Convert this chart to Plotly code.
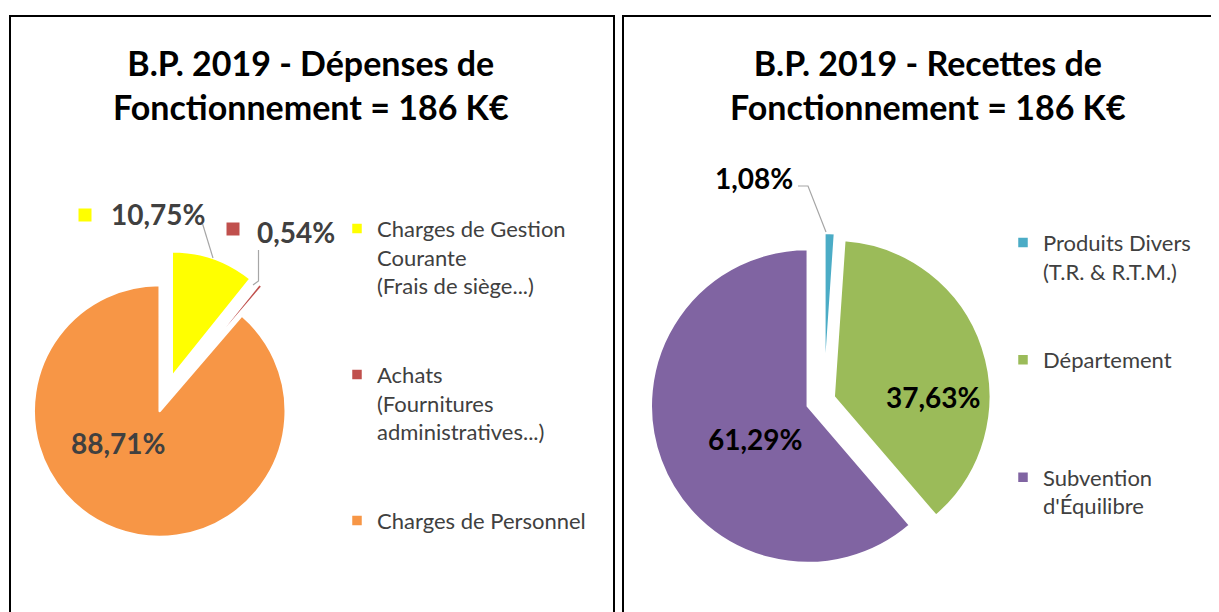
import plotly.graph_objects as go

# ---------------- data ----------------
dep_categories = ["Charges de Gestion<br>Courante<br>(Frais de siège...)",
                  "Achats<br>(Fournitures<br>administratives...)",
                  "Charges de Personnel"]
dep_values = [10.75, 0.54, 88.71]
dep_colors = ["#FFFF00", "#C0504D", "#F79646"]

rec_categories = ["Produits Divers<br>(T.R. & R.T.M.)",
                  "Département",
                  "Subvention<br>d'Équilibre"]
rec_values = [1.08, 37.63, 61.29]
rec_colors = ["#4BACC6", "#9BBB59", "#8064A2"]

titles = ["B.P. 2019 - Dépenses de<br>Fonctionnement = 186 K€",
          "B.P. 2019 - Recettes de<br>Fonctionnement = 186 K€"]

# ---------------- layout helpers ----------------
# the page adds an 8px body margin, so the figure is drawn 8px in from the corner
OFF = 8
W, H = 1219 - OFF, 612 - OFF
FONT = "Lato"


def px(x):
    return (x - OFF) / W


def py(y):
    return 1 - (y - OFF) / H


def pad(labels, n):
    """pad legend labels with blank lines so every entry has n lines (except the last)"""
    out = []
    for i, lab in enumerate(labels):
        lines = lab.split("<br>")
        if i < len(labels) - 1:
            lines += ["\u00a0"] * (n - len(lines))
        out.append("<br>".join(lines))
    return out


def fmt(v):
    return f"{v:.2f}".replace(".", ",") + "%"


fig = go.Figure()

fig.add_trace(go.Pie(
    labels=pad(dep_categories, 5), values=dep_values,
    marker=dict(colors=dep_colors, line=dict(width=2.5, color="#FFFFFF")),
    pull=[0.225, 0.225, 0.06], sort=False, direction="clockwise", rotation=0,
    textinfo="none", hoverinfo="label+percent",
    domain=dict(x=[0, px(8 + 308.7)], y=[py(558.25), py(249.55)]),
    legend="legend",
))

fig.add_trace(go.Pie(
    labels=pad(rec_categories, 4), values=rec_values,
    marker=dict(colors=rec_colors, line=dict(width=2.5, color="#FFFFFF")),
    pull=[0.065, 0.065, 0.11], sort=False, direction="clockwise", rotation=0,
    textinfo="none", hoverinfo="label+percent",
    domain=dict(x=[px(649.7), px(998.3)], y=[py(574.3), py(225.7)]),
    legend="legend2",
))

# ---------------- annotations ----------------
ann = []
# titles
for t, cx in zip(titles, [311, 928]):
    ann.append(dict(text=f"<b>{t}</b>", x=px(cx), y=py(84.5), xref="paper", yref="paper",
                    xanchor="center", yanchor="middle", showarrow=False,
                    font=dict(family=FONT, size=34, color="#000000")))

# data labels (positions per slice)
dep_label_pos = [(158, 214), (296, 232), (118, 443)]
rec_label_pos = [(754, 178), (933, 397), (755, 439)]
for v, (x, y) in zip(dep_values, dep_label_pos):
    ann.append(dict(text=f"<b>{fmt(v)}</b>", x=px(x), y=py(y), xref="paper", yref="paper",
                    xanchor="center", yanchor="middle", showarrow=False,
                    font=dict(family=FONT, size=28, color="#404040")))
for v, (x, y) in zip(rec_values, rec_label_pos):
    ann.append(dict(text=f"<b>{fmt(v)}</b>", x=px(x), y=py(y), xref="paper", yref="paper",
                    xanchor="center", yanchor="middle", showarrow=False,
                    font=dict(family=FONT, size=28, color="#000000")))

# ---------------- shapes ----------------
shapes = []
# panel borders
for x0, x1 in [(10, 614), (623, 1240)]:
    shapes.append(dict(type="rect", xref="paper", yref="paper",
                       x0=px(x0), x1=px(x1), y0=py(640), y1=py(16),
                       line=dict(color="#000000", width=2), fillcolor="rgba(0,0,0,0)"))


def path(pts):
    return "M " + " L ".join(f"{px(x)},{py(y)}" for x, y in pts)


leaders = [
    [(202, 222), (213, 258)],
    [(258.5, 250), (258.5, 281), (253, 285)],
    [(798, 186), (808, 186), (826, 232)],
]
for pts in leaders:
    shapes.append(dict(type="path", xref="paper", yref="paper", path=path(pts),
                       line=dict(color="#A6A6A6", width=1.2)))

# legend keys next to the outside labels of the left pie
key_pos = [(85, 215), (233, 229)]
for c, (x, y) in zip(dep_colors[:2], key_pos):
    shapes.append(dict(type="rect", xref="paper", yref="paper",
                       x0=px(x - 6.5), x1=px(x + 6.5), y0=py(y + 6.5), y1=py(y - 6.5),
                       line=dict(width=0), fillcolor=c))

legend_style = dict(xanchor="left", yanchor="top", valign="top",
                    bgcolor="rgba(0,0,0,0)", traceorder="normal",
                    font=dict(family=FONT, size=22, color="#404040"))

fig.update_layout(
    width=W, height=H,
    margin=dict(l=0, r=0, t=0, b=0),
    paper_bgcolor="#FFFFFF", plot_bgcolor="#FFFFFF",
    annotations=ann, shapes=shapes,
    legend=dict(x=px(337), y=py(207.6), **legend_style),
    legend2=dict(x=px(1003), y=py(221.6), **legend_style),
    showlegend=True,
)

fig.write_html("out.html")
